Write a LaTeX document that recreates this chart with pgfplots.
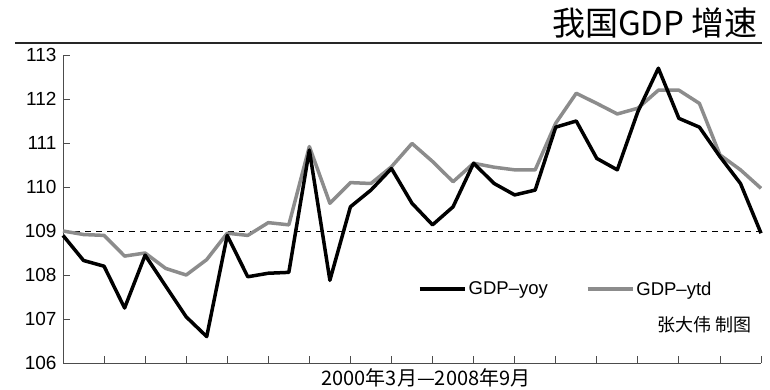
\documentclass[border=0pt]{standalone}
\usepackage{fontspec}
\setmainfont{Liberation Sans}
\newfontfamily\cjk{Noto Sans CJK SC}
\usepackage{pgfplots}
\pgfplotsset{compat=1.18}
\definecolor{ytdgray}{gray}{0.55}
\begin{document}
\begin{tikzpicture}[x=1pt,y=1pt]
\useasboundingbox (0,0) rectangle (770,389);
\begin{axis}[
  at={(63pt,26pt)}, anchor=south west,
  scale only axis, width=698pt, height=308pt,
  xmin=0, xmax=34, ymin=106, ymax=113,
  axis x line=bottom, axis y line=left,
  axis line style={-, draw=black!70, line width=0.8pt},
  xtick={0,2,...,34}, xticklabels={},
  ytick={106,107,...,113},
  tick align=inside,
  major tick length=7pt,
  tick style={draw=black!70, line width=0.8pt},
  yticklabel style={font=\fontsize{19}{19}\selectfont, xshift=-3pt},
  /pgf/number format/assume math mode=true,
  clip=false,
  legend columns=2,
  legend style={at={(0.5086,0.240)}, anchor=west, draw=none, fill=none,
    font=\fontsize{18.5}{18.5}\selectfont, inner sep=0pt,
    /tikz/every even column/.append style={column sep=36pt}},
  legend image code/.code={\draw[#1] (0pt,0pt) -- (45pt,0pt);},
]
\addplot[black, line width=0.6pt, dash pattern=on 6pt off 5pt, forget plot] coordinates {(0,109) (34,109)};
\addplot[ytdgray, line width=3.5pt, line join=round, forget plot] coordinates {
(0,109.0) (1,108.92) (2,108.9) (3,108.43) (4,108.5) (5,108.15) (6,108.0) (7,108.35)
(8,108.95) (9,108.9) (10,109.19) (11,109.14) (12,110.92) (13,109.63) (14,110.1)
(15,110.08) (16,110.46) (17,110.99) (18,110.58) (19,110.12) (20,110.54) (21,110.45)
(22,110.39) (23,110.39) (24,111.45) (25,112.13) (26,111.9) (27,111.66) (28,111.79)
(29,112.2) (30,112.2) (31,111.9) (32,110.73) (33,110.39) (34,109.97)};
\addplot[black, line width=3.5pt, line join=round] coordinates {
(0,108.9) (1,108.33) (2,108.2) (3,107.25) (4,108.45) (5,107.75) (6,107.05) (7,106.6)
(8,108.9) (9,107.96) (10,108.04) (11,108.06) (12,110.84) (13,107.88) (14,109.55)
(15,109.93) (16,110.42) (17,109.63) (18,109.14) (19,109.55) (20,110.54) (21,110.08)
(22,109.82) (23,109.93) (24,111.36) (25,111.5) (26,110.65) (27,110.39) (28,111.71)
(29,112.7) (30,111.56) (31,111.36) (32,110.69) (33,110.08) (34,108.95)};
\addlegendentry{GDP–yoy}
\addlegendimage{ytdgray, line width=3.5pt}
\addlegendentry{GDP–ytd}
\end{axis}
\draw[black!85, line width=2pt] (15,346) -- (762,346);
\node[anchor=base east, inner sep=0pt, font=\cjk\fontsize{33}{33}\selectfont] at (758,353) {我国GDP 增速};
\node[anchor=east, inner sep=0pt, font=\cjk\fontsize{18}{18}\selectfont] at (752,64) {张大伟\ 制图};
\node[anchor=center, inner sep=0pt, font=\cjk\fontsize{20}{20}\selectfont] at (426,11.5) {2000年3月—2008年9月};
\end{tikzpicture}
\end{document}
